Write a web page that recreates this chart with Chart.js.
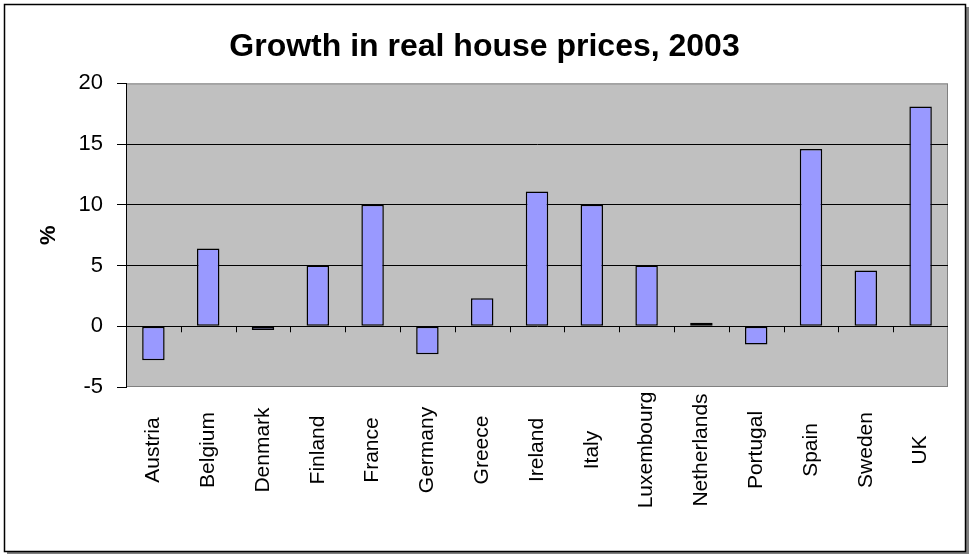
<!DOCTYPE html>
<html><head><meta charset="utf-8">
<script src="https://cdn.jsdelivr.net/npm/chart.js@4/dist/chart.umd.min.js"></script>
<style>html,body{margin:0;padding:0;background:#fff}#wrap{width:969px;height:554px;position:relative}</style>
</head><body><div id="wrap"><canvas id="c" width="969" height="554"></canvas></div>
<script>
const categories = ['Austria','Belgium','Denmark','Finland','France','Germany','Greece','Ireland','Italy','Luxembourg','Netherlands','Portugal','Spain','Sweden','UK'];
const growth = [-2.8, 6.4, -0.3, 5.0, 10.0, -2.3, 2.3, 11.1, 10.0, 5.0, 0.3, -1.5, 14.6, 4.6, 18.1];
const yTicks = [-5, 0, 5, 10, 15, 20];
const titleText = 'Growth in real house prices, 2003';
const yTitle = '%';
const FONT = "'Liberation Sans', Arial, sans-serif";

const frame = {
  id: 'frame',
  beforeDraw(chart) {
    const {ctx, chartArea: a} = chart;
    ctx.save();
    ctx.fillStyle = '#fff';
    ctx.fillRect(0, 0, chart.width, chart.height);
    ctx.fillStyle = '#808080';
    ctx.fillRect(7, 551, 962, 3);
    ctx.fillRect(966, 7, 3, 547);
    ctx.strokeStyle = '#000';
    ctx.lineWidth = 1.5;
    ctx.strokeRect(4.5, 4.5, 961, 547);
    ctx.fillStyle = '#C0C0C0';
    ctx.fillRect(a.left, a.top, a.right - a.left, a.bottom - a.top);
    ctx.strokeStyle = '#808080';
    ctx.lineWidth = 1;
    ctx.strokeRect(a.left + 0.5, a.top + 0.5, a.right - a.left - 1, a.bottom - a.top - 1);
    ctx.restore();
  },
  afterDraw(chart) {
    const {ctx, chartArea: a, scales: {x, y}} = chart;
    const y0 = y.getPixelForValue(0);
    ctx.save();
    ctx.strokeStyle = '#000';
    ctx.lineWidth = 1;
    ctx.beginPath();
    for (let i = 0; i < categories.length - 1; i++) {
      const xb = Math.round((x.getPixelForValue(i) + x.getPixelForValue(i + 1)) / 2) + 0.5;
      ctx.moveTo(xb, y0);
      ctx.lineTo(xb, y0 + 6);
    }
    ctx.stroke();
    ctx.fillStyle = '#000';
    ctx.font = '21px ' + FONT;
    ctx.textAlign = 'center';
    ctx.textBaseline = 'middle';
    categories.forEach((c, i) => {
      ctx.save();
      ctx.translate(x.getPixelForValue(i), a.bottom + 63);
      ctx.rotate(-Math.PI / 2);
      ctx.fillText(c, 0, 0);
      ctx.restore();
    });
    ctx.restore();
  }
};

new Chart(document.getElementById('c'), {
  type: 'bar',
  data: {
    labels: categories,
    datasets: [{
      data: growth,
      backgroundColor: '#9999FF',
      borderColor: '#000',
      borderWidth: 1.5,
      borderSkipped: false,
      barPercentage: 0.41,
      categoryPercentage: 1
    }]
  },
  options: {
    responsive: false,
    devicePixelRatio: 1,
    animation: false,
    layout: {padding: {left: 21, right: 21, top: 0, bottom: 0}},
    plugins: {
      legend: {display: false},
      tooltip: {enabled: false},
      title: {
        display: true,
        text: titleText,
        color: '#000',
        font: {family: FONT, size: 32, weight: 'bold'},
        padding: {top: 28, bottom: 17}
      }
    },
    scales: {
      x: {
        ticks: {display: false},
        grid: {display: false},
        border: {display: false},
        afterFit: s => { s.height = 167; }
      },
      y: {
        min: -5,
        max: 20,
        afterBuildTicks: s => { s.ticks = yTicks.map(v => ({value: v})); },
        ticks: {
          color: '#000',
          font: {family: FONT, size: 22},
          padding: 14
        },
        grid: {
          color: c => (c.tick && (c.tick.value === 20 || c.tick.value === -5)) ? 'rgba(0,0,0,0)' : '#000',
          tickColor: '#000',
          tickLength: 9,
          lineWidth: 1
        },
        border: {display: true, color: '#000', width: 1},
        title: {
          display: true,
          text: yTitle,
          color: '#000',
          font: {family: FONT, size: 22, weight: 'bold'},
          padding: {top: 15, bottom: 0}
        },
        afterFit: s => { s.width = 105; }
      }
    }
  },
  plugins: [frame]
});
</script>
</body></html>
